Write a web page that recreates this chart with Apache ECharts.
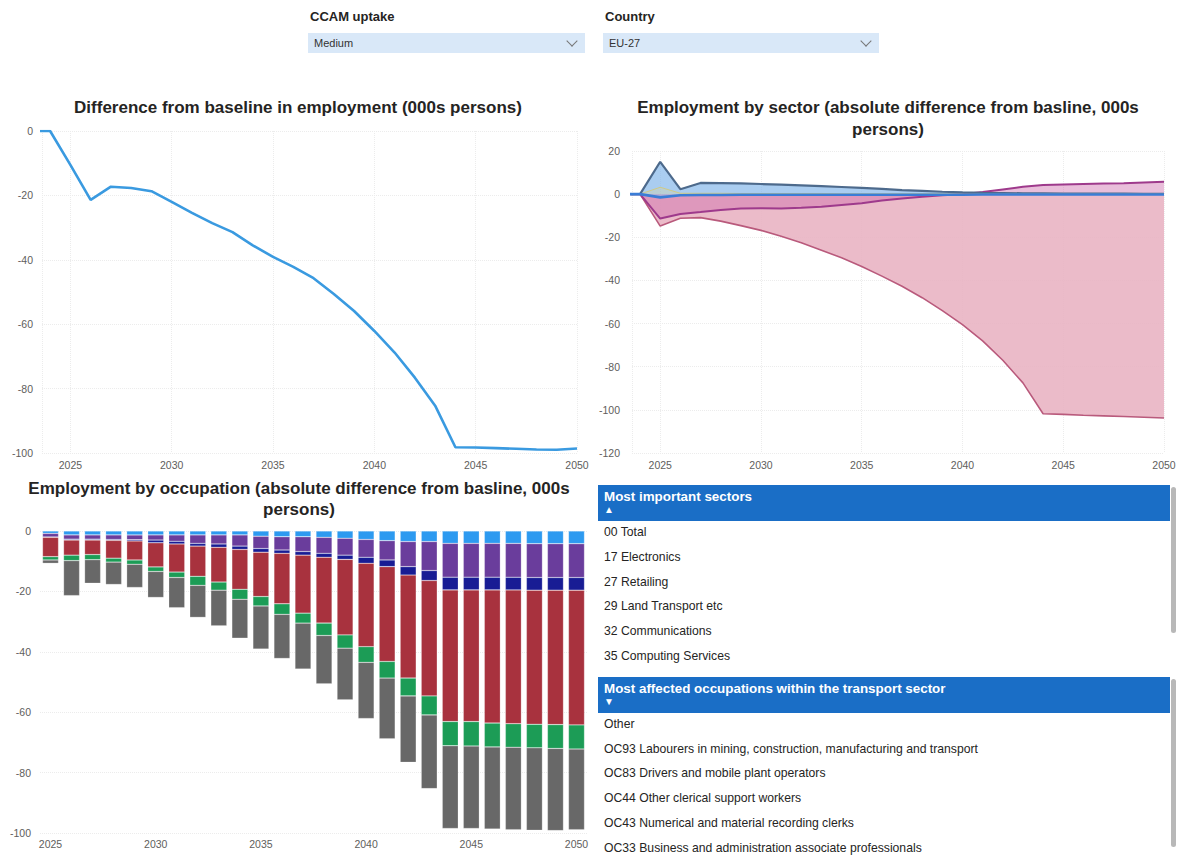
<!DOCTYPE html>
<html>
<head>
<meta charset="utf-8">
<script src="https://cdn.jsdelivr.net/npm/echarts@6/dist/echarts.min.js"></script>
<style>
  html, body { margin:0; padding:0; background:#fff; }
  body { width:1190px; height:858px; position:relative; overflow:hidden; font-family:"Liberation Sans", Arial, sans-serif; color:#252423; }
  #chart { position:absolute; left:0; top:0; width:1190px; height:858px; }
  .lbl { position:absolute; font-weight:bold; font-size:13px; color:#252423; }
  .box { position:absolute; height:20px; background:#d9e8f8; font-size:11px; color:#333; line-height:20px; padding-left:6px; box-sizing:border-box; }
  .chev { position:absolute; right:9px; top:4px; width:7px; height:7px; border-right:1.3px solid #777; border-bottom:1.3px solid #777; transform:rotate(45deg); }
  .hdr { position:absolute; left:598px; width:572px; height:36px; background:#1a6ec6; color:#fff; font-weight:bold; font-size:13.4px; box-sizing:border-box; padding-left:6px; padding-top:4px; }
  .tri { font-size:10px; line-height:11px; margin-top:0px; }
  .row { position:absolute; left:604px; font-size:12.2px; color:#252423; }
  .sb { position:absolute; left:1171px; width:5px; background:#b8b8b8; border-radius:3px; }
</style>
</head>
<body>
<div id="chart"></div>

<div class="lbl" style="left:310px; top:9px;">CCAM uptake</div>
<div class="box" style="left:308px; top:33px; width:277px;">Medium<span class="chev"></span></div>
<div class="lbl" style="left:605px; top:9px;">Country</div>
<div class="box" style="left:603px; top:33px; width:276px;">EU-27<span class="chev"></span></div>

<div class="hdr" style="top:485px;">Most important sectors<div class="tri">&#9650;</div></div>
<div id="rows1"></div>
<div class="sb" style="top:487px; height:146px;"></div>

<div class="hdr" style="top:677px;">Most affected occupations within the transport sector<div class="tri">&#9660;</div></div>
<div id="rows2"></div>
<div class="sb" style="top:679px; height:168px;"></div>

<script>
// ---------- DATA ----------
const sectorRows = ['00 Total','17 Electronics','27 Retailing','29 Land Transport etc','32 Communications','35 Computing Services'];
const occupationRows = ['Other','OC93 Labourers in mining, construction, manufacturing and transport','OC83 Drivers and mobile plant operators','OC44 Other clerical support workers','OC43 Numerical and material recording clerks','OC33 Business and administration associate professionals'];

const years = [2023,2024,2025,2026,2027,2028,2029,2030,2031,2032,2033,2034,2035,2036,2037,2038,2039,2040,2041,2042,2043,2044,2045,2046,2047,2048,2049,2050];
const xTickLabels = [2025,2030,2035,2040,2045,2050];

// Chart 1: total difference from baseline
const totalDiff = [0,0,-10.5,-21.4,-17.3,-17.7,-18.7,-22.0,-25.4,-28.6,-31.4,-35.5,-39.1,-42.2,-45.7,-50.6,-55.9,-62.1,-68.8,-76.6,-85.3,-98.2,-98.3,-98.5,-98.7,-98.9,-99.0,-98.6];

// Chart 2: by sector
const landTransport = [0,0,-14.8,-11.2,-10.9,-12.5,-14.6,-16.8,-19.5,-22.5,-26.0,-29.5,-33.5,-38.0,-42.7,-48.0,-54.0,-60.5,-68.0,-77.0,-87.5,-101.8,-102.1,-102.5,-102.8,-103.1,-103.4,-103.8];
const retailing = [0,0,-11.3,-9.2,-8.3,-7.3,-6.6,-6.5,-6.6,-6.3,-5.8,-5.0,-4.2,-3.0,-2.0,-1.2,-0.5,0,1.0,2.2,3.4,4.2,4.5,4.7,4.9,5.1,5.4,5.7];
const computing = [0,0,15,2.3,5.2,5.1,5.0,4.7,4.4,4.1,3.7,3.3,2.9,2.4,1.9,1.5,1.1,0.8,0.6,0.5,0.4,0.4,0.3,0.3,0.2,0.2,0.1,0.1];
const communications = [0,0,-1.5,-0.5,-0.4,-0.4,-0.3,-0.3,-0.3,-0.3,-0.3,-0.3,-0.3,-0.3,-0.3,-0.3,-0.3,-0.3,-0.2,-0.2,-0.2,-0.2,-0.2,-0.2,-0.2,-0.2,-0.2,-0.2];
const electronics = [0,0,3.2,0.4,0.4,0.4,0.3,0.3,0.3,0.3,0.3,0.2,0.2,0.2,0.2,0.2,0.2,0.1,0.1,0.1,0.1,0.1,0.1,0.1,0.1,0.1,0.1,0.1];

// Chart 3: by occupation (stacked bars, 2025-2050)
const barYears = ['2025','2026','2027','2028','2029','2030','2031','2032','2033','2034','2035','2036','2037','2038','2039','2040','2041','2042','2043','2044','2045','2046','2047','2048','2049','2050'];
const occOC33 = [-0.8,-1.3,-1.3,-1.3,-1.3,-1.3,-1.3,-1.3,-1.3,-1.3,-1.7,-1.9,-1.9,-2.1,-2.4,-2.8,-3.2,-3.5,-3.5,-4.1,-4.1,-4.1,-4.1,-4.2,-4.2,-4.2];
const occOC43 = [-1.2,-1.4,-1.4,-1.5,-1.6,-1.7,-2.1,-2.8,-3.0,-3.7,-4.1,-4.4,-4.9,-5.3,-5.6,-5.9,-6.4,-8.3,-9.6,-11.2,-11.2,-11.2,-11.2,-11.2,-11.2,-11.2];
const occOC44 = [-0.1,-0.3,-0.3,-0.3,-0.4,-0.9,-0.9,-0.9,-1.1,-1.1,-1.2,-1.1,-1.2,-1.3,-1.4,-2.0,-2.2,-2.8,-3.3,-4.2,-4.2,-4.2,-4.2,-4.2,-4.2,-4.2];
const occOC83 = [-6.4,-5.0,-4.8,-5.9,-6.3,-8.0,-9.3,-10.0,-11.5,-13.2,-14.7,-16.7,-19.2,-21.8,-25.0,-27.6,-31.4,-34.1,-38.2,-43.6,-43.6,-44.1,-44.3,-44.4,-44.5,-44.6];
const occOC93 = [-1.1,-1.8,-1.7,-1.3,-1.4,-1.5,-1.8,-3.0,-2.7,-3.3,-3.1,-3.5,-3.3,-4.1,-4.4,-5.2,-5.5,-5.9,-6.3,-8.0,-8.1,-7.9,-7.8,-7.8,-7.9,-8.0];
const occOther = [-1.1,-11.6,-7.8,-7.4,-7.7,-8.6,-10.0,-10.6,-11.8,-12.9,-14.3,-14.6,-15.2,-16.0,-17.1,-18.6,-20.1,-22.0,-24.4,-27.4,-27.3,-27.2,-27.3,-27.3,-27.2,-26.7];

// ---------- TABLE ROWS ----------
function fillRows(id, rows, top0, step) {
  const el = document.getElementById(id);
  rows.forEach((t, i) => {
    const d = document.createElement('div');
    d.className = 'row';
    d.style.top = (top0 + i * step) + 'px';
    d.textContent = t;
    el.appendChild(d);
  });
}
fillRows('rows1', sectorRows, 525, 24.8);
fillRows('rows2', occupationRows, 717, 24.7);

// ---------- CHART ----------
const pair = arr => years.map((y, i) => [y, arr[i]]);
const axisLabelStyle = { color:'#605e5c', fontSize:10.5, fontFamily:'Liberation Sans, Arial' };
const faint = { show:true, lineStyle:{ color:'#ececec', type:'dotted', width:1 } };

function yearAxis(gridIndex) {
  return {
    type:'value', gridIndex, min:2023.6, max:2050, splitNumber:5,
    axisLine:{show:false}, axisTick:{show:false},
    axisLabel:Object.assign({ customValues:xTickLabels, margin:6, formatter: v => String(Math.round(v)) }, axisLabelStyle),
    splitLine: faint
  };
}

const chart = echarts.init(document.getElementById('chart'), null, { renderer:'svg', width:1190, height:858 });

const titleStyle = { fontSize:17, fontWeight:'bold', fill:'#252423', fontFamily:'Liberation Sans, Arial', textAlign:'center', textVerticalAlign:'middle' };

const occSeries = [
  ['OC33 Business and administration associate professionals', occOC33, '#2d9af0'],
  ['OC43 Numerical and material recording clerks', occOC43, '#6a3d9c'],
  ['OC44 Other clerical support workers', occOC44, '#181c94'],
  ['OC83 Drivers and mobile plant operators', occOC83, '#a8323e'],
  ['OC93 Labourers in mining, construction, manufacturing and transport', occOC93, '#1c9c56'],
  ['Other', occOther, '#686868']
].map(([name, data, color]) => ({
  name, type:'bar', stack:'occ', xAxisIndex:2, yAxisIndex:2, data, barWidth:16,
  itemStyle:{ color, borderColor:'rgba(255,255,255,0.45)', borderWidth:0.5 }
}));

chart.setOption({
  animation:false,
  graphic:[
    { type:'text', style:Object.assign({ x:298, y:107, text:'Difference from baseline in employment (000s persons)' }, titleStyle) },
    { type:'text', style:Object.assign({ x:888, y:118, text:'Employment by sector (absolute difference from basline, 000s\npersons)', lineHeight:22 }, titleStyle) },
    { type:'text', style:Object.assign({ x:299, y:499, text:'Employment by occupation (absolute difference from basline, 000s\npersons)', lineHeight:21 }, titleStyle) }
  ],
  grid:[
    { left:42, right:613, top:131, bottom:405, containLabel:false },
    { left:632, right:26, top:151, bottom:405, containLabel:false },
    { left:40, right:603, top:531, bottom:25, containLabel:false }
  ],
  xAxis:[
    yearAxis(0),
    yearAxis(1),
    { type:'category', gridIndex:2, data:barYears, axisLine:{show:false}, axisTick:{show:false},
      axisLabel:Object.assign({ interval:4, margin:5 }, axisLabelStyle), splitLine:{show:false} }
  ],
  yAxis:[
    { type:'value', gridIndex:0, min:-100, max:0, interval:20, axisLabel:Object.assign({margin:9}, axisLabelStyle), splitLine:faint, axisLine:{show:false}, axisTick:{show:false} },
    { type:'value', gridIndex:1, min:-120, max:20, interval:20, axisLabel:Object.assign({margin:12}, axisLabelStyle), splitLine:faint, axisLine:{show:false}, axisTick:{show:false} },
    { type:'value', gridIndex:2, min:-100, max:0, interval:20, axisLabel:Object.assign({margin:9}, axisLabelStyle), splitLine:faint, axisLine:{show:false}, axisTick:{show:false} }
  ],
  series:[
    { name:'Total', type:'line', xAxisIndex:0, yAxisIndex:0, data:pair(totalDiff), symbol:'none',
      lineStyle:{ color:'#3a9ae0', width:2.6 } },

    { name:'29 Land Transport etc', type:'line', xAxisIndex:1, yAxisIndex:1, data:pair(landTransport), symbol:'none',
      lineStyle:{ color:'#b95a7c', width:1.6 }, areaStyle:{ color:'#e9b4c3', opacity:0.9 } },
    { name:'27 Retailing', type:'line', xAxisIndex:1, yAxisIndex:1, data:pair(retailing), symbol:'none',
      lineStyle:{ color:'#9e3a8c', width:2 }, areaStyle:{ color:'#cf6fae', opacity:0.45 } },
    { name:'35 Computing Services', type:'line', xAxisIndex:1, yAxisIndex:1, data:pair(computing), symbol:'none',
      lineStyle:{ color:'#4d6a8c', width:2.2 }, areaStyle:{ color:'#86b8ea', opacity:0.7 } },
    { name:'17 Electronics', type:'line', xAxisIndex:1, yAxisIndex:1, data:pair(electronics), symbol:'none',
      lineStyle:{ color:'#e3c84a', width:1, opacity:0.6 }, areaStyle:{ color:'#ecd77a', opacity:0.25 } },
    { name:'32 Communications', type:'line', xAxisIndex:1, yAxisIndex:1, data:pair(communications), symbol:'none',
      lineStyle:{ color:'#3a7dd6', width:2.6 }, areaStyle:{ color:'#86b8ea', opacity:0.5 } },

    ...occSeries
  ]
});
</script>
</body>
</html>
